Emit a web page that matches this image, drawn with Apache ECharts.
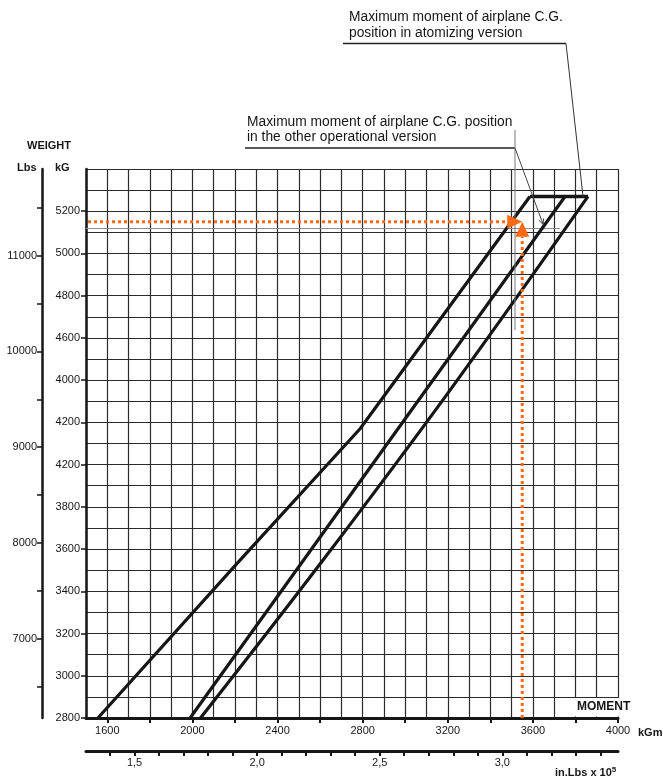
<!DOCTYPE html>
<html><head><meta charset="utf-8">
<script src="https://cdn.jsdelivr.net/npm/echarts@6/dist/echarts.min.js"></script>
<style>html,body{margin:0;padding:0;background:#fff}#c{width:663px;height:780px}</style>
</head><body><div id="c"></div>
<script>
// ---- conversions ----
const KG_PER_LB = 0.45359237;
const INLB_PER_KGM = 86.796166;

// ---- axis ranges ----
const momentMin = 1500, momentMax = 4000;   // kGm
const weightMin = 2800, weightMax = 5400;   // kG

// ---- tick labels ----
const kgTickValues = [2800,3000,3200,3400,3600,3800,4000,4200,4400,4600,4800,5000,5200];
const kgTickLabels = ['2800','3000','3200','3400','3600','3800','4200','4200','4000','4600','4800','5000','5200'];
const lbsLabelValues = [7000,8000,9000,10000,11000];
const lbsTickValues = [6500,7000,7500,8000,8500,9000,9500,10000,10500,11000,11500];
const kgmLabelValues = [1600,2000,2400,2800,3200,3600,4000];
const kgmTickValues = [1600,1800,2000,2200,2400,2600,2800,3000,3200,3400,3600,3800,4000];
const inlbLabelValues = [1.5,2.0,2.5,3.0];
const inlbTickValues = [1.4,1.5,1.6,1.7,1.8,1.9,2.0,2.1,2.2,2.3,2.4,2.5,2.6,2.7,2.8,2.9,3.0,3.1,3.2,3.3,3.4];

// ---- envelope lines [moment kGm, weight kG] ----
const leftLine = [[1556,2800],[2224,3548],[2788,4170],[3586,5270]];
const middleLine = [[1989,2800],[3751,5270]];
const rightLine = [[2038,2800],[2614,3548],[3211,4353],[3859,5270]];
const topLine = [[3586,5270],[3859,5270]];
const thinRefLine = [[1500,5118],[3727,5118]];

// ---- reading example (orange) ----
const readWeight = 5150;
const readMoment = 3550;

// ---- annotation anchors (data) ----
const atomizingTarget = [3836,5266];
const otherTarget = [3648,5138];
const otherVerticalMoment = 3516, otherVerticalBottom = 4637;

const FONT = 'Liberation Sans, Arial, sans-serif';
const INK = '#161616';
const GRIDC = '#2b2b2b';
const ORANGE = '#ff6a10';

const chart = echarts.init(document.getElementById('c'), null, {renderer:'canvas'});
const lbl = {color: INK, fontFamily: FONT, fontSize: 11};

const option = {
  animation: false,
  backgroundColor: '#fff',
  grid: {left: 86, right: 45, top: 169, bottom: 62, containLabel: false},
  xAxis: [
    {type:'value', min:momentMin, max:momentMax, interval:100, position:'bottom',
      axisLine:{show:false}, axisTick:{show:false}, axisLabel:{show:false},
      splitLine:{show:true, lineStyle:{color:GRIDC, width:1.2}}},
    {type:'value', min:momentMin, max:momentMax, position:'bottom',
      axisLine:{show:true, onZero:false, lineStyle:{color:INK, width:3}},
      axisTick:{show:true, customValues:kgmTickValues, length:5, lineStyle:{color:INK, width:2}},
      axisLabel:Object.assign({customValues:kgmLabelValues, margin:7, formatter:v=>String(Math.round(v))}, lbl),
      splitLine:{show:false}},
    {type:'value', min:momentMin, max:momentMax, position:'bottom', offset:33,
      axisLine:{show:true, onZero:false, lineStyle:{color:INK, width:3}},
      axisTick:{show:true, customValues:inlbTickValues.map(v=>v*1e5/INLB_PER_KGM), length:5, lineStyle:{color:INK, width:2}},
      axisLabel:Object.assign({customValues:inlbLabelValues.map(v=>v*1e5/INLB_PER_KGM), margin:6,
        formatter:v=>(v*INLB_PER_KGM/1e5).toFixed(1).replace('.',',')}, lbl),
      splitLine:{show:false}}
  ],
  yAxis: [
    {type:'value', min:weightMin, max:weightMax, interval:100, position:'left',
      axisLine:{show:false}, axisTick:{show:false}, axisLabel:{show:false},
      splitLine:{show:true, lineStyle:{color:GRIDC, width:1.2}}},
    {type:'value', min:weightMin, max:weightMax, position:'left',
      axisLine:{show:true, onZero:false, lineStyle:{color:INK, width:2.5}},
      axisTick:{show:true, customValues:kgTickValues, length:5, lineStyle:{color:INK, width:1.5}},
      axisLabel:Object.assign({customValues:kgTickValues, margin:6,
        formatter:v=>kgTickLabels[kgTickValues.indexOf(Math.round(v))]}, lbl),
      splitLine:{show:false}},
    {type:'value', min:weightMin, max:weightMax, position:'left', offset:44,
      axisLine:{show:true, onZero:false, lineStyle:{color:INK, width:2.5}},
      axisTick:{show:true, customValues:lbsTickValues.map(v=>v*KG_PER_LB), length:5, lineStyle:{color:INK, width:1.5}},
      axisLabel:Object.assign({customValues:lbsLabelValues.map(v=>v*KG_PER_LB), margin:5,
        formatter:v=>String(Math.round(v/KG_PER_LB/100)*100)}, lbl),
      splitLine:{show:false}}
  ],
  series: [
    {type:'line', data:thinRefLine, showSymbol:false, symbol:'none', z:3,
      lineStyle:{color:'#8a8a8a', width:1}},
    {type:'line', data:leftLine, showSymbol:false, symbol:'none', z:5, lineStyle:{color:INK, width:3.2, join:'round'}},
    {type:'line', data:middleLine, showSymbol:false, symbol:'none', z:5, lineStyle:{color:INK, width:3.2}},
    {type:'line', data:rightLine, smooth:0.4, showSymbol:false, symbol:'none', z:5, lineStyle:{color:INK, width:3.2}},
    {type:'line', data:topLine, showSymbol:false, symbol:'none', z:5, lineStyle:{color:INK, width:3.6}}
  ]
};
chart.setOption(option);

const P = d => chart.convertToPixel({xAxisIndex:0, yAxisIndex:0}, d);
const aT = P(atomizingTarget);
const oT = P(otherTarget);
const vB = P([otherVerticalMoment, otherVerticalBottom]);
const rd = P([readMoment, readWeight]);
const origin = P([momentMin, weightMin]);
const AL = 15, AW = 7;

const txt = (x, y, text, size, bold, extra) => Object.assign({type:'text', x, y, z:60,
  style:{text, fill:INK, font:(bold?'bold ':'')+size+'px '+FONT, textVerticalAlign:'middle'}}, extra||{});
const ln = (x1,y1,x2,y2,w,c,dash) => ({type:'line', z:55, shape:{x1,y1,x2,y2},
  style:{stroke:c||'#333', lineWidth:w||1, lineDash:dash||null}});

// arrowhead for other leader
const ang = Math.atan2(oT[1]-148, oT[0]-515);
const ah = 6;
const arrowPts = [
  [oT[0]-ah*Math.cos(ang-0.45), oT[1]-ah*Math.sin(ang-0.45)],
  [oT[0], oT[1]],
  [oT[0]-ah*Math.cos(ang+0.45), oT[1]-ah*Math.sin(ang+0.45)]
];

chart.setOption({graphic:[
  txt(27, 146, 'WEIGHT', 11, true),
  txt(17, 168, 'Lbs', 11, true),
  txt(55, 168, 'kG', 11, true),
  {type:'rect', z:50, shape:{x:571, y:698, width:48, height:18.5}, style:{fill:'#fff'}},
  txt(577, 707, 'MOMENT', 12, true, {z:61}),
  txt(638, 733, 'kGm', 11, true),
  {type:'text', x:555, y:773, z:60, style:{
    rich:{a:{font:'bold 11px '+FONT, fill:INK}, s:{font:'bold 8px '+FONT, fill:INK, verticalAlign:'top', padding:[0,0,6,0]}},
    text:'{a|in.Lbs x 10}{s|5}', textVerticalAlign:'middle'}},
  txt(349, 17, 'Maximum moment of airplane C.G.', 13.8, false),
  txt(349, 33, 'position in atomizing version', 13.8, false),
  ln(343,43.5,566,43.5,1.3,'#222'),
  ln(566,43.5,aT[0],aT[1],1,'#333'),
  txt(247, 122.5, 'Maximum moment of airplane C.G. position', 13.8, false),
  txt(247, 137.5, 'in the other operational version', 13.8, false),
  ln(245,148,515,148,1.3,'#222'),
  ln(515,130,vB[0],vB[1],1,'#777'),
  ln(515,148,oT[0],oT[1],1,'#444'),
  {type:'polyline', z:55, shape:{points:arrowPts}, style:{stroke:'#444', lineWidth:1, fill:null}},
  // orange reading example
  ln(origin[0]+2, rd[1], rd[0]-AL, rd[1], 3, ORANGE, [3,3]),
  ln(rd[0], origin[1], rd[0], rd[1]+AL, 3, ORANGE, [3,3]),
  {type:'polygon', z:57, shape:{points:[[rd[0]-AL, rd[1]-AW],[rd[0], rd[1]],[rd[0]-AL, rd[1]+AW]]}, style:{fill:ORANGE}},
  {type:'polygon', z:57, shape:{points:[[rd[0]-AW, rd[1]+AL],[rd[0], rd[1]],[rd[0]+AW, rd[1]+AL]]}, style:{fill:ORANGE}}
]});
</script></body></html>
